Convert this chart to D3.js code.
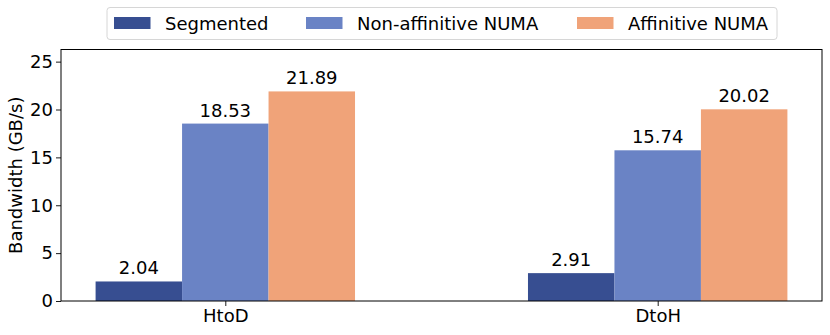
<!DOCTYPE html>
<html><head><meta charset="utf-8">
<script src="https://cdn.jsdelivr.net/npm/d3@7"></script>
<style>body{margin:0;background:#fff}svg{display:block}text{font-family:"DejaVu Sans",sans-serif}</style>
</head><body><svg id="c" width="830" height="335"></svg>
<script>
const categories = ["HtoD", "DtoH"];
const seriesNames = ["Segmented", "Non-affinitive NUMA", "Affinitive NUMA"];
const segmented = [2.04, 2.91];
const nonAffinitive = [18.53, 15.74];
const affinitive = [21.89, 20.02];
const yTicks = [0, 5, 10, 15, 20, 25];
const colors = ["#374e91", "#6a83c5", "#f0a379"];
const series = [segmented, nonAffinitive, affinitive];

const svg = d3.select("#c");
const L = 61, R = 822, T = 49.5, B = 301;
const barW = 0.2;
const x = d3.scaleLinear().domain([-0.38, 1.38]).range([L, R]);
const y = d3.scaleLinear().domain([0, 21.89 * 1.2]).range([B, T]);
const fs = 18;

// bars
series.forEach((vals, si) => {
  const off = (si - 1) * barW;
  svg.append("g").selectAll("rect").data(vals).join("rect")
    .attr("x", (d, i) => x(i + off - barW / 2))
    .attr("width", (d, i) => x(i + off + barW / 2) - x(i + off - barW / 2))
    .attr("y", d => y(d))
    .attr("height", d => y(0) - y(d))
    .attr("fill", colors[si]);
  svg.append("g").selectAll("text").data(vals).join("text")
    .attr("x", (d, i) => x(i + off))
    .attr("y", d => y(d) - 7)
    .attr("text-anchor", "middle")
    .attr("font-size", fs)
    .text(d => d.toFixed(2));
});

// axes
const yAxis = d3.axisLeft(y).tickValues(yTicks).tickSize(5).tickPadding(3).tickFormat(d3.format("d"));
const gy = svg.append("g").attr("transform", `translate(${L},0)`).call(yAxis);
const xAxis = d3.axisBottom(x).tickValues([0, 1]).tickSize(5).tickPadding(3).tickFormat(i => categories[i]);
const gx = svg.append("g").attr("transform", `translate(0,${B})`).call(xAxis);
[gx, gy].forEach(g => {
  g.select(".domain").remove();
  g.selectAll("text").attr("font-size", fs).attr("fill", "#000").style("font-family", "DejaVu Sans");
  g.selectAll("line").attr("stroke", "#000").attr("stroke-width", 0.9);
});
svg.append("rect").attr("x", L).attr("y", T).attr("width", R - L).attr("height", B - T)
  .attr("fill", "none").attr("stroke", "#000").attr("stroke-width", 1);

// y label
svg.append("text").attr("transform", `translate(22,${(T + B) / 2}) rotate(-90)`)
  .attr("text-anchor", "middle").attr("font-size", fs).text("Bandwidth (GB/s)");

// legend
const lg = svg.append("g");
lg.append("rect").attr("x", 107).attr("y", 7.5).attr("width", 670).attr("height", 32).attr("rx", 3)
  .attr("fill", "#fff").attr("stroke", "#d6d6d6").attr("stroke-width", 1);
const legX = [114, 306, 577];
seriesNames.forEach((n, i) => {
  lg.append("rect").attr("x", legX[i]).attr("y", 17).attr("width", 36.5).attr("height", 12).attr("fill", colors[i]);
  lg.append("text").attr("x", legX[i] + 51).attr("y", 29.5).attr("font-size", fs).text(n);
});
</script></body></html>
